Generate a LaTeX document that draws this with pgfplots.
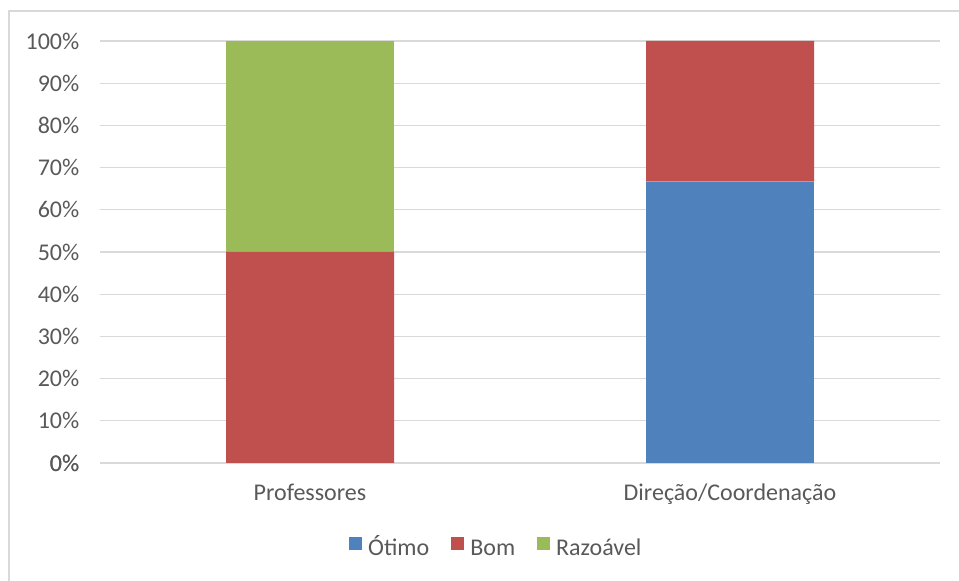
\documentclass[border=0pt]{standalone}
\usepackage{pgfplots}
\pgfplotsset{compat=1.18}
\usepackage{fontspec}
\setmainfont{Carlito}
\definecolor{cBlue}{HTML}{4F81BD}
\definecolor{cRed}{HTML}{C0504D}
\definecolor{cGreen}{HTML}{9BBB59}
\definecolor{cText}{HTML}{595959}
\definecolor{cGrid}{HTML}{D9D9D9}
\begin{document}
\begin{tikzpicture}[x=1pt,y=1pt]
\path[use as bounding box] (-75,-88.5) rectangle (644.25,347.25);
\draw[cGrid,line width=0.9pt] (-68.25,-100) -- (-68.25,339) -- (700,339);
\begin{axis}[
  at={(0,0)}, anchor=south west,
  scale only axis, width=630pt, height=316.5pt,
  ybar stacked, bar width=0.4,
  xmin=-0.5, xmax=1.5, ymin=0, ymax=100,
  xtick={0,1}, xticklabels={Professores,Direção/Coordenação},
  ytick={0,10,...,100},
  yticklabel={\pgfmathprintnumber{\tick}\%},
  /pgf/number format/assume math mode=true,
  major tick length=0pt,
  axis line style={draw=none},
  ymajorgrids, grid style={cGrid,line width=0.9pt},
  extra y ticks={0}, extra y tick style={grid style={cGrid,line width=1.2pt}},
  font=\fontsize{18}{21.6}\selectfont,
  tick label style={text=cText},
  yticklabel style={xshift=-12pt},
  xticklabel style={yshift=-12pt},
  legend style={at={(0.5,0)}, anchor=center, yshift=-63.75pt, xshift=-18.75pt, draw=none,
    legend columns=-1, text=cText, font=\fontsize{18}{21.6}\selectfont,
    nodes={text height=12.5pt, text depth=3pt, inner sep=0pt},
    /tikz/every odd column/.append style={column sep=5pt},
    /tikz/every even column/.append style={column sep=16pt}},
  legend image code/.code={\fill[#1] (0pt,-0.3pt) rectangle (9.75pt,9.45pt);},
]
\addplot[fill=cBlue,draw=none] coordinates {(0,0) (1,66.67)};
\addplot[fill=cRed,draw=none] coordinates {(0,50) (1,33.33)};
\addplot[fill=cGreen,draw=none] coordinates {(0,50) (1,0)};
\legend{Ótimo,Bom,Razoável}
\end{axis}
\end{tikzpicture}
\end{document}
